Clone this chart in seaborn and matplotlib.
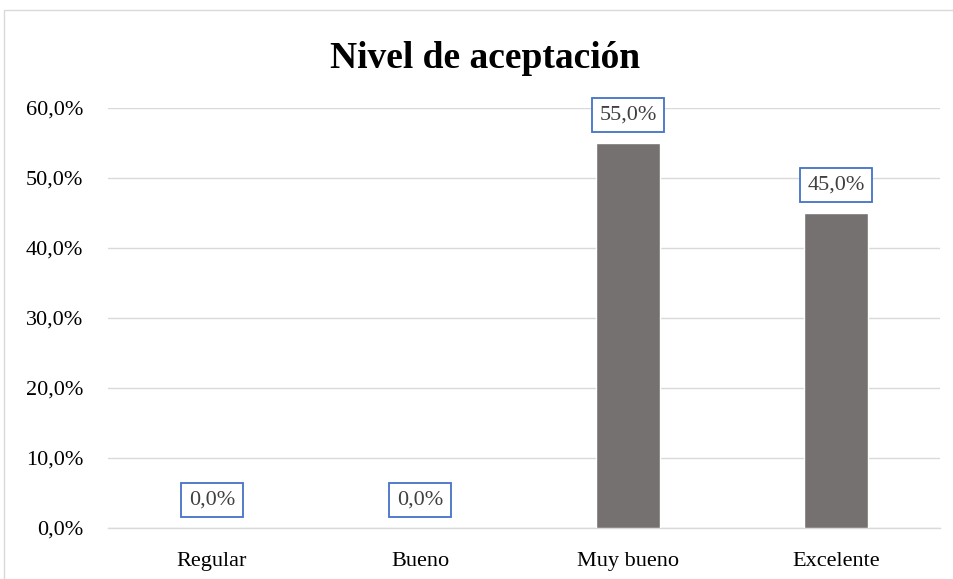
import matplotlib
matplotlib.use("Agg")
import matplotlib.pyplot as plt
import matplotlib.patches as mpatches
import pandas as pd
import seaborn as sns

# data
categorias = ["Regular", "Bueno", "Muy bueno", "Excelente"]
porcentajes = [0.0, 0.0, 55.0, 45.0]
y_ticks = [0, 10, 20, 30, 40, 50, 60]

df = pd.DataFrame({"categoria": categorias, "porcentaje": porcentajes})

sns.set_theme(style="white")
plt.rcParams["font.family"] = ["Liberation Serif", "DejaVu Serif"]

fig = plt.figure(figsize=(9.54, 5.79), dpi=100)
ax = fig.add_axes([108 / 954, 1 - 528 / 579, 832 / 954, 420 / 579])

sns.barplot(data=df, x="categoria", y="porcentaje", color="#767171",
            width=0.31, saturation=1, ax=ax, zorder=3)

ax.set_ylim(0, 60)
ax.set_yticks(y_ticks)
ax.set_yticklabels([f"{t:.1f}%".replace(".", ",") for t in y_ticks],
                   fontsize=16, color="#000000")
ax.tick_params(axis="x", labelsize=16, colors="#000000", pad=17, length=0)
ax.tick_params(axis="y", pad=18, length=0)
ax.set_xlabel("")
ax.set_ylabel("")
ax.grid(axis="y", color="#d9d9d9", linewidth=1, zorder=0)
for side in ["top", "right", "left"]:
    ax.spines[side].set_visible(False)
ax.spines["bottom"].set_color("#d9d9d9")
ax.spines["bottom"].set_linewidth(1)

# data labels with blue box
for i, v in enumerate(porcentajes):
    ax.annotate(f"{v:.1f}%".replace(".", ","), xy=(i, v), xytext=(0, 20),
                textcoords="offset points", ha="center", va="center",
                fontsize=16, color="#404040", zorder=5,
                bbox=dict(boxstyle="square,pad=0.34", fc="white",
                          ec="#4472C4", lw=1.3))

fig.text(485 / 954, 1 - 59 / 579, "Nivel de aceptación", ha="center",
         va="center", fontsize=27, fontweight="bold", color="#000000")

# outer chart border
fig.patches.append(mpatches.Rectangle((4 / 954, -0.1), 1.2, 1 - 10 / 579 + 0.1,
                                      transform=fig.transFigure, fill=False,
                                      ec="#d9d9d9", lw=1))

fig.savefig("out.png", dpi=100)
